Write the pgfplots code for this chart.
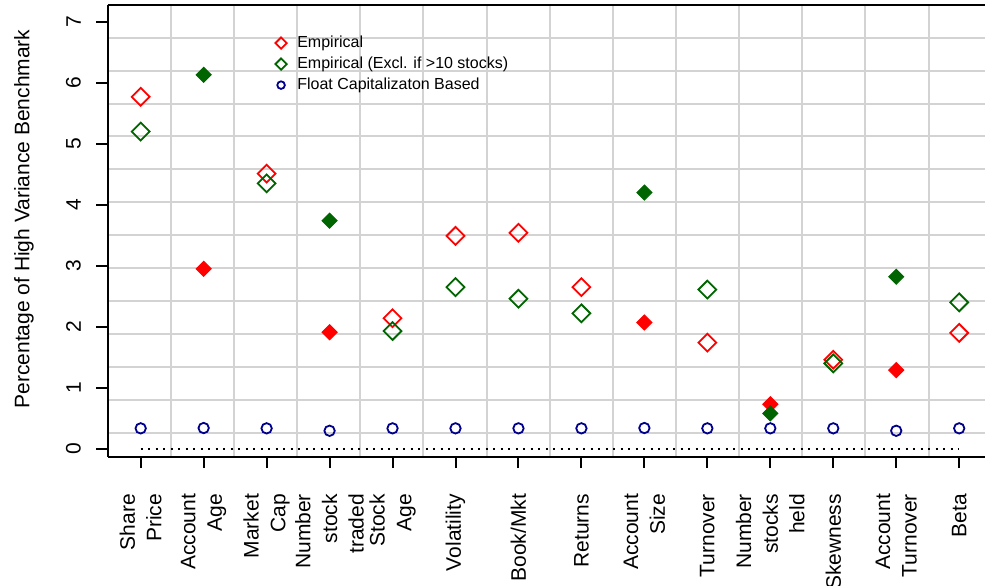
\documentclass[border=0pt]{standalone}
\usepackage{fontspec}
\setmainfont{Liberation Sans}
\usepackage{pgfplots}
\pgfplotsset{compat=1.18}
\definecolor{rred}{HTML}{FF0000}
\definecolor{rgreen}{HTML}{006400}
\definecolor{rblue}{HTML}{00008B}
\definecolor{rgrid}{HTML}{D3D3D3}
\begin{document}
\begin{tikzpicture}
\begin{axis}[
  name=ax, set layers,
  scale only axis, width=438.65pt, height=226pt,
  xmin=0.476, xmax=14.41, ymin=-0.13, ymax=7.28,
  axis x line*=box, axis y line*=left,
  axis line style={line width=1pt, black},
  xtick={1,...,14}, ytick={0,...,7},
  xtick pos=left, ytick pos=left,
  tick align=outside, major tick length=5.65pt,
  major tick style={line width=1pt, black},
  minor xtick={1.479,2.482,3.485,4.488,5.490,6.493,7.496,8.499,9.502,10.505,11.508,12.511,13.514},
  minor ytick={0.26,0.80,1.34,1.88,2.42,2.96,3.50,4.04,4.58,5.12,5.66,6.20,6.74},
  minor tick length=0pt,
  xmajorgrids=false, ymajorgrids=false, xminorgrids=true, yminorgrids=true,
  minor grid style={rgrid, line width=1pt},
  /pgf/number format/assume math mode=true,
  tick label style={font=\fontsize{10.5}{13.3}\selectfont},
  xticklabels={{Share\\Price},{Account\\Age},{Market\\Cap},{Number\\stock\\traded},{Stock\\Age},Volatility,Book/Mkt,Returns,{Account\\Size},Turnover,{Number\\stocks\\held},Skewness,{Account\\Turnover},Beta},
  xticklabel style={rotate=90, anchor=east, align=right, inner sep=0pt},
  xticklabel shift=12.8pt,
  yticklabel style={rotate=90, anchor=south, inner sep=0pt},
  yticklabel shift=7.6pt,
  ylabel={Percentage of High Variance Benchmark},
  every axis y label/.style={at={(rel axis cs:-0.0955,0.526)}, rotate=90, anchor=center, font=\fontsize{10.5}{13.3}\selectfont},
  legend style={draw=none, fill=none, at={(axis cs:3.038,6.306)}, anchor=west,
    font=\fontsize{8}{9.6}\selectfont, row sep=2.5pt,
    nodes={inner sep=0pt, text height=6pt, text depth=2pt},
    /tikz/every odd column/.append style={column sep=5.3pt}},
  legend cell align=left,
  legend image code/.code={\draw[#1] plot coordinates {(0pt,0pt)};},
]
\addlegendimage{only marks, mark=square, mark size=2pt, mark options={rotate=45, draw=rred, line width=0.9pt}}
\addlegendentry{Empirical}
\addlegendimage{only marks, mark=square, mark size=2pt, mark options={rotate=45, draw=rgreen, line width=0.9pt}}
\addlegendentry{Empirical (Excl. if >10 stocks)}
\addlegendimage{only marks, mark=o, mark size=1.9pt, mark options={draw=rblue, line width=0.9pt}}
\addlegendentry{Float Capitalizaton Based}

% dotted zero line
\addplot[forget plot, black, line width=1pt, dash pattern=on 1pt off 2.75pt] coordinates {(1,0) (14,0)};

% Empirical (open red)
\addplot[forget plot, only marks, mark=square, mark size=3.15pt, mark options={rotate=45, draw=rred, line width=0.9pt}] coordinates {
(1,5.77) (3,4.51) (5,2.14) (6,3.49) (7,3.54) (8,2.65) (10,1.74) (12,1.46) (14,1.90)};
% Empirical filled red (under grid)
\addplot[forget plot, on layer=axis background, only marks, mark=square*, mark size=2.65pt, mark options={rotate=45, draw=rred, fill=rred, line width=0.5pt}] coordinates {
(2,2.95) (4,1.91) (9,2.07) (11,0.73) (13,1.29)};
% Empirical excl (open green)
\addplot[forget plot, only marks, mark=square, mark size=3.15pt, mark options={rotate=45, draw=rgreen, line width=0.9pt}] coordinates {
(1,5.20) (3,4.35) (5,1.93) (6,2.65) (7,2.46) (8,2.22) (10,2.61) (12,1.40) (14,2.40)};
% Empirical excl filled green
\addplot[forget plot, only marks, mark=square*, mark size=2.65pt, mark options={rotate=45, draw=rgreen, fill=rgreen, line width=0.5pt}] coordinates {
(2,6.13) (4,3.74) (9,4.20) (11,0.58) (13,2.82)};
% Float cap
\addplot[forget plot, only marks, mark=o, mark size=2.6pt, mark options={draw=rblue, line width=0.9pt}] coordinates {
(1,0.335) (2,0.34) (3,0.335) (4,0.295) (5,0.335) (6,0.335) (7,0.335) (8,0.335) (9,0.34) (10,0.335) (11,0.335) (12,0.335) (13,0.295) (14,0.335)};
\end{axis}
\pgfresetboundingbox
\path[use as bounding box] ([xshift=-53.85pt,yshift=-64.15pt]ax.south west) rectangle ([yshift=2.35pt]ax.north east);
\end{tikzpicture}
\end{document}
